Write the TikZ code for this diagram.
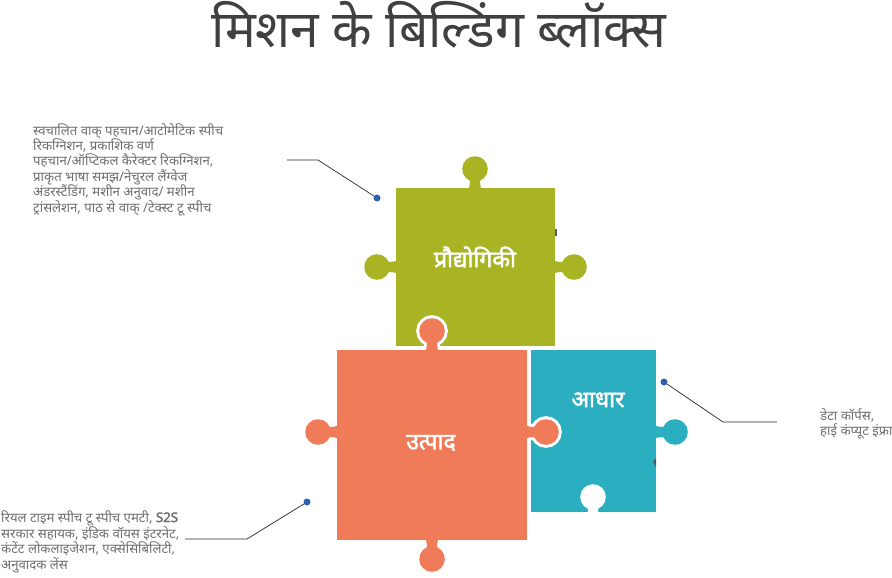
\documentclass[tikz,border=0pt]{standalone}
\usepackage{fontspec}
\newfontfamily\dev[Script=Devanagari]{Noto Sans}
\newfontfamily\devb[Script=Devanagari,FakeBold=2.2]{Noto Sans}
\definecolor{pgreen}{HTML}{A9B424}
\definecolor{porange}{HTML}{F07B58}
\definecolor{pteal}{HTML}{2BAEBF}
\definecolor{titlegray}{HTML}{404040}
\definecolor{txtgray}{HTML}{6E6E6E}
\definecolor{dotblue}{HTML}{2F5FB0}
\newcommand\ptab[4]{%
\begin{scope}[shift={(#1,#2)},rotate=#3]
\path[#4] (-11,3) .. controls (-5,3) and (-5,-3) .. (-5,-10) -- (5,-10) .. controls (5,-3) and (5,3) .. (11,3) -- cycle;
\path[#4] (0,-19) circle (12.8);
\end{scope}}
\tikzset{
  lbl/.style={font=\devb\fontsize{23}{27}\selectfont, text=white},
  desc/.style={font=\dev\fontsize{13.2}{15.4}\selectfont, text=txtgray, align=left, inner sep=0pt},
  dot/.style={circle, fill=dotblue, minimum size=7pt, inner sep=0pt},
  conn/.style={draw=black!85, line width=0.7pt},
  shadowmark/.style={fill=black!65},
}
\begin{document}
\begin{tikzpicture}[x=1pt,y=-1pt]
\useasboundingbox (0,0) rectangle (892,578);
% title
\node[font=\dev\fontsize{51.5}{60}\selectfont, text=titlegray] (title) at (439,25) {मिशन के बिल्डिंग ब्लॉक्स};
% green piece
\ptab{475}{188}{0}{fill=pgreen}
\ptab{396}{267}{90}{fill=pgreen}
\ptab{555}{267}{-90}{fill=pgreen}
\fill[pgreen] (396,188) rectangle (555,346);
\fill[shadowmark] (555,229) rectangle (557,236);
\node[lbl] (tech) at (475,257) {प्रौद्योगिकी};
% teal piece
\ptab{656}{432}{-90}{fill=pteal}
\fill[pteal] (531,350) rectangle (656,512);
\ptab{593}{516}{0}{fill=white}
\fill[shadowmark] (656,458) -- (653,462) -- (656,467) -- cycle;
\node[lbl] (base) at (598,400) {आधार};
% orange piece
\ptab{432}{350}{0}{draw=white, line width=6pt}
\ptab{527}{432}{-90}{draw=white, line width=6pt}
\fill[porange] (337,350) rectangle (527,540);
\ptab{432}{350}{0}{fill=porange}
\ptab{527}{432}{-90}{fill=porange}
\ptab{337}{432}{90}{fill=porange}
\ptab{432}{540}{180}{fill=porange}
\node[lbl] (prod) at (431,443) {उत्पाद};
% descriptions
\node[desc, anchor=north west] (d1text) at (33,123) {स्वचालित वाक् पहचान/आटोमेटिक स्पीच\\रिकग्निशन, प्रकाशिक वर्ण\\पहचान/ऑप्टिकल कैरेक्टर रिकग्निशन,\\प्राकृत भाषा समझ/नेचुरल लैंग्वेज\\अंडरस्टैंडिंग, मशीन अनुवाद/ मशीन\\ट्रांसलेशन, पाठ से वाक् /टेक्स्ट टू स्पीच};
\node[desc, anchor=north west] (d2text) at (1,510) {रियल टाइम स्पीच टू स्पीच एमटी, {\devb S2S}\\सरकार सहायक, इंडिक वॉयस इंटरनेट,\\कंटेंट लोकलाइजेशन, एक्सेसिबिलिटी,\\अनुवादक लेंस};
\node[desc, anchor=north west] (d3text) at (820,408) {डेटा कॉर्पस,\\हाई कंप्यूट इंफ्रा};
% connectors
\node[dot] (dot1) at (377,198) {};
\coordinate (c1a) at (287,160);
\coordinate (c1b) at (318,160);
\draw[conn] (c1a) -- (c1b) -- (dot1);
\node[dot] (dot2) at (307,502) {};
\coordinate (c2a) at (185,539);
\coordinate (c2b) at (247,539);
\draw[conn] (c2a) -- (c2b) -- (dot2);
\node[dot] (dot3) at (664,382) {};
\coordinate (c3a) at (777,422);
\coordinate (c3b) at (723,422);
\draw[conn] (c3a) -- (c3b) -- (dot3);
\end{tikzpicture}
\end{document}
